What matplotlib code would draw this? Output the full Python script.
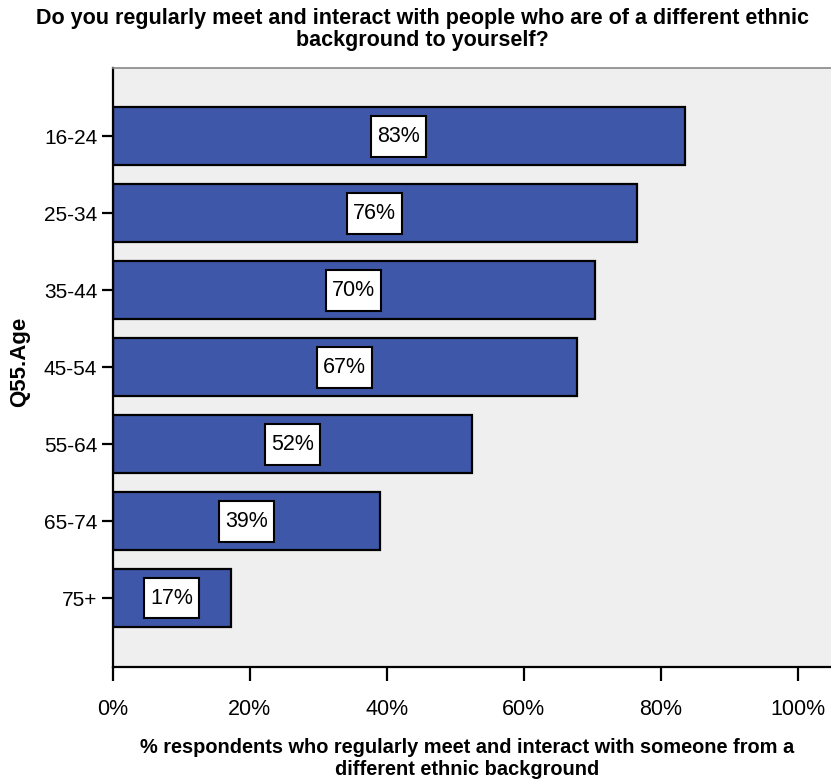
import matplotlib
matplotlib.use("Agg")
import matplotlib.pyplot as plt
from matplotlib.patches import Rectangle
from matplotlib.ticker import FuncFormatter

categories = ["16-24", "25-34", "35-44", "45-54", "55-64", "65-74", "75+"]
values = [83.5, 76.5, 70.4, 67.7, 52.4, 39.0, 17.3]
labels = ["83%", "76%", "70%", "67%", "52%", "39%", "17%"]
xticks = [0, 20, 40, 60, 80, 100]

plt.rcParams['font.family'] = ['Liberation Sans', 'DejaVu Sans']

W, H = 831, 780
fig = plt.figure(figsize=(W / 100, H / 100), dpi=100)
ax = fig.add_axes([112.5 / W, 1 - 667 / H, 1 - 112.5 / W, (667 - 68) / H])
ax.set_facecolor("#EFEFEF")

ypos = list(range(len(categories)))
ax.barh(ypos, values, height=0.75, color="#3E57A8", edgecolor="black", linewidth=1.6, zorder=2)

box_w = 8.0   # in % units
box_h = 0.53  # in category units
for y, v, lab in zip(ypos, values, labels):
    cx = v / 2
    ax.add_patch(Rectangle((cx - box_w / 2, y - box_h / 2), box_w, box_h,
                           facecolor="white", edgecolor="black", linewidth=1.5, zorder=3))
    ax.text(cx, y, lab, ha="center", va="center", fontsize=15.5, zorder=4)

ax.set_ylim(len(categories) - 1 + 0.895, -0.885)
ax.set_xlim(0, 104.8)
ax.set_yticks(ypos)
ax.set_yticklabels(categories, fontsize=15)
ax.set_xticks(xticks)
ax.xaxis.set_major_formatter(FuncFormatter(lambda v, p: f"{int(v)}%"))
ax.tick_params(axis="x", labelsize=15.5, length=10, width=1.6, pad=13)
ax.tick_params(axis="y", labelsize=15, length=8, width=1.6, pad=3)

ax.spines["right"].set_visible(False)
ax.spines["top"].set_color("#888888")
ax.spines["top"].set_linewidth(1.2)
ax.spines["left"].set_linewidth(1.6)
ax.spines["bottom"].set_linewidth(1.6)

fig.text(0.508, 1 - 24 / H, "Do you regularly meet and interact with people who are of a different ethnic",
         ha="center", va="baseline", fontsize=15.5, fontweight="bold")
fig.text(0.508, 1 - 46 / H, "background to yourself?",
         ha="center", va="baseline", fontsize=15.5, fontweight="bold")
fig.text(0.562, 1 - 753 / H, "% respondents who regularly meet and interact with someone from a",
         ha="center", va="baseline", fontsize=14.4, fontweight="bold")
fig.text(0.562, 1 - 775 / H, "different ethnic background",
         ha="center", va="baseline", fontsize=14.4, fontweight="bold")
fig.text(20 / W, 1 - 362 / H, "Q55.Age", rotation=90, ha="center", va="center", fontsize=16, fontweight="bold")

fig.savefig("out.png", dpi=100)
